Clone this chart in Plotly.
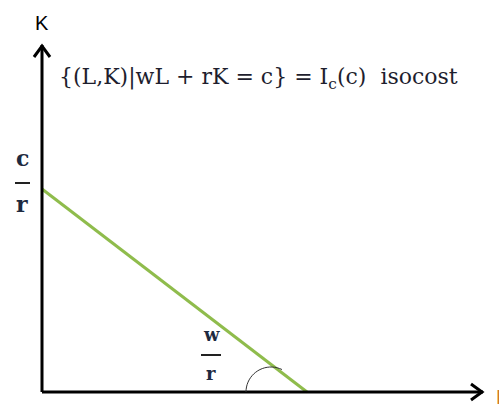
import plotly.graph_objects as go
import math

# Isocost line: intercepts (data units)
L_points = [0.0, 5.3]     # L values (0 and c/w)
K_points = [4.06, 0.0]    # K values (c/r and 0)
axis_max_L = 8.82
axis_max_K = 6.94

S = 50.0  # px per unit
W, H = 499, 405
ox, oy = 42, 392
xr = [-ox / S, (W - ox) / S]
yr = [-(H - oy) / S, oy / S]

def px(x):
    return (x - ox) / S

def py(y):
    return (oy - y) / S

fig = go.Figure()

fig.add_trace(go.Scatter(x=L_points, y=K_points, mode="lines",
                         line=dict(color="#8fbc4c", width=3), hoverinfo="skip",
                         showlegend=False))

shapes = []
ax_line = dict(color="black", width=3)
shapes.append(dict(type="line", x0=0, y0=0, x1=0, y1=axis_max_K, line=ax_line))
shapes.append(dict(type="line", x0=0, y0=0, x1=axis_max_L, y1=0, line=ax_line))
shapes.append(dict(type="path",
                   path=f"M {px(34)} {py(57)} L {px(42)} {py(46)} L {px(50)} {py(57)}",
                   line=ax_line))
shapes.append(dict(type="path",
                   path=f"M {px(471)} {py(384)} L {px(482)} {py(392)} L {px(471)} {py(400)}",
                   line=ax_line))
shapes.append(dict(type="line", x0=px(15), y0=py(183), x1=px(30), y1=py(183),
                   line=dict(color="#222", width=2)))
shapes.append(dict(type="line", x0=px(201), y0=py(355), x1=px(221), y1=py(355),
                   line=dict(color="#222", width=2)))
cx, cy, rad = 271, 392, 25
pts = []
for i in range(0, 21):
    a = math.radians(180 - i * (180 - 64) / 20)
    pts.append((cx + rad * math.cos(a), cy - rad * math.sin(a)))
path = "M " + " L ".join(f"{px(x)} {py(y)}" for x, y in pts)
shapes.append(dict(type="path", path=path, line=dict(color="#333", width=1)))

fig.update_layout(shapes=shapes)

serif = "DejaVu Serif"
ann = []
ann.append(dict(x=px(42), y=py(23), text="K", showarrow=False,
                font=dict(family="Liberation Sans", size=20, color="black")))
ann.append(dict(x=px(57), y=py(78), xanchor="left",
                text="{(L,K)|wL + rK = c} = I<sub>c</sub>(c)  isocost",
                showarrow=False, font=dict(family=serif, size=22, color="#1e1e2e")))
ann.append(dict(x=px(22), y=py(158), text="<b>c</b>", showarrow=False,
                font=dict(family=serif, size=22, color="#1e2a40")))
ann.append(dict(x=px(22), y=py(204), text="<b>r</b>", showarrow=False,
                font=dict(family=serif, size=22, color="#1e2a40")))
ann.append(dict(x=px(211), y=py(334), text="<b>w</b>", showarrow=False,
                font=dict(family=serif, size=18, color="#1e2a40")))
ann.append(dict(x=px(211), y=py(373), text="<b>r</b>", showarrow=False,
                font=dict(family=serif, size=18, color="#1e2a40")))
ann.append(dict(x=px(494), y=py(397), xanchor="left", text="L", showarrow=False,
                font=dict(family="Liberation Sans", size=20, color="#d07a2a")))

fig.update_layout(
    annotations=ann,
    width=W, height=H,
    margin=dict(l=0, r=0, t=0, b=0),
    paper_bgcolor="white", plot_bgcolor="white",
    xaxis=dict(range=xr, visible=False, fixedrange=True),
    yaxis=dict(range=yr, visible=False, fixedrange=True),
    showlegend=False,
)

fig.write_html("out.html", config={"displayModeBar": False, "staticPlot": True},
               post_script="document.body.style.margin='0';document.body.style.overflow='hidden';")
